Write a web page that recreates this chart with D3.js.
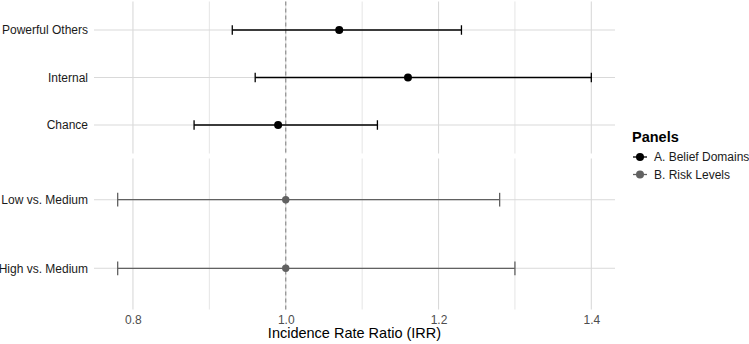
<!DOCTYPE html>
<html>
<head>
<meta charset="utf-8">
<script src="https://cdn.jsdelivr.net/npm/d3@7"></script>
<style>
  body { margin: 0; background: #fff; }
  svg { font-family: "Liberation Sans", Arial, sans-serif; }
</style>
</head>
<body>
<svg id="chart" width="749" height="344"></svg>
<script>
// Panel A: belief domains
const beliefLabels = ["Powerful Others", "Internal", "Chance"];
const beliefIRR = [1.07, 1.16, 0.99];
const beliefLower = [0.93, 0.96, 0.88];
const beliefUpper = [1.23, 1.40, 1.12];

// Panel B: risk levels
const riskLabels = ["Low vs. Medium", "High vs. Medium"];
const riskIRR = [1.0, 1.0];
const riskLower = [0.78, 0.78];
const riskUpper = [1.28, 1.30];

const xTicks = [0.8, 1.0, 1.2, 1.4];
const xMinorTicks = [0.9, 1.1, 1.3];
const panelNames = ["A. Belief Domains", "B. Risk Levels"];
const panelColors = ["#000000", "#616161"];

const svg = d3.select("#chart");
const left = 94, right = 615;

const lo = d3.min(beliefLower.concat(riskLower));
const hi = d3.max(beliefUpper.concat(riskUpper));
const pad = (hi - lo) * 0.05;
const x = d3.scaleLinear().domain([lo - pad, hi + pad]).range([left, right]);

const panels = [
  { labels: beliefLabels, est: beliefIRR, lower: beliefLower, upper: beliefUpper, top: 1.5, bottom: 153.5, color: panelColors[0], r: 4 },
  { labels: riskLabels, est: riskIRR, lower: riskLower, upper: riskUpper, top: 158.5, bottom: 309.5, color: panelColors[1], r: 3.7 }
];

panels.forEach(p => {
  const y = d3.scalePoint().domain(p.labels).range([p.top, p.bottom]).padding(0.6);
  const g = svg.append("g");

  // minor grid
  g.selectAll(".minor").data(xMinorTicks).enter().append("line")
    .attr("x1", d => x(d)).attr("x2", d => x(d))
    .attr("y1", p.top).attr("y2", p.bottom)
    .attr("stroke", "#e2e2e2").attr("stroke-width", 0.9);
  // major grid
  g.selectAll(".major").data(xTicks).enter().append("line")
    .attr("x1", d => x(d)).attr("x2", d => x(d))
    .attr("y1", p.top).attr("y2", p.bottom)
    .attr("stroke", "#d9d9d9").attr("stroke-width", 1.1);
  g.selectAll(".hgrid").data(p.labels).enter().append("line")
    .attr("x1", left).attr("x2", right)
    .attr("y1", d => y(d)).attr("y2", d => y(d))
    .attr("stroke", "#d9d9d9").attr("stroke-width", 1.1);

  // reference line at 1
  g.append("line")
    .attr("x1", x(1)).attr("x2", x(1))
    .attr("y1", p.top).attr("y2", p.bottom)
    .attr("stroke", "#8a8a8a").attr("stroke-width", 1.1)
    .attr("stroke-dasharray", "4,3");

  const rows = p.labels.map((d, i) => ({ label: d, est: p.est[i], lower: p.lower[i], upper: p.upper[i] }));
  const capH = y.step() * 0.2 / 2;

  g.selectAll(".bar").data(rows).enter().append("line")
    .attr("x1", d => x(d.lower)).attr("x2", d => x(d.upper))
    .attr("y1", d => y(d.label)).attr("y2", d => y(d.label))
    .attr("stroke", p.color).attr("stroke-width", 1.3);
  ["lower", "upper"].forEach(k => {
    g.selectAll(".cap-" + k).data(rows).enter().append("line")
      .attr("x1", d => x(d[k])).attr("x2", d => x(d[k]))
      .attr("y1", d => y(d.label) - capH).attr("y2", d => y(d.label) + capH)
      .attr("stroke", p.color).attr("stroke-width", 1.3);
  });
  g.selectAll(".pt").data(rows).enter().append("circle")
    .attr("cx", d => x(d.est)).attr("cy", d => y(d.label))
    .attr("r", p.r).attr("fill", p.color);

  // y labels
  g.selectAll(".ylab").data(p.labels).enter().append("text")
    .attr("x", left - 6).attr("y", d => y(d))
    .attr("dy", "0.35em").attr("text-anchor", "end")
    .attr("font-size", 12).attr("fill", "#1a1a1a")
    .text(d => d);
});

// x axis labels
const xAxis = svg.append("g")
  .attr("transform", "translate(0,311)")
  .call(d3.axisBottom(x).tickValues(xTicks).tickSize(0).tickPadding(4).tickFormat(d3.format(".1f")));
xAxis.select(".domain").remove();
xAxis.selectAll("text")
  .attr("font-size", 12).attr("fill", "#4d4d4d")
  .attr("font-family", "Liberation Sans, Arial, sans-serif");

svg.append("text")
  .attr("x", (left + right) / 2).attr("y", 338)
  .attr("text-anchor", "middle")
  .attr("font-size", 14.5).attr("fill", "#000")
  .text("Incidence Rate Ratio (IRR)");

// legend
const legend = svg.append("g").attr("transform", "translate(632,0)");
legend.append("text")
  .attr("x", 0).attr("y", 142)
  .attr("font-size", 14.5).attr("font-weight", "bold")
  .text("Panels");
panelNames.forEach((name, i) => {
  const cy = 157 + i * 17.5;
  legend.append("line")
    .attr("x1", 1).attr("x2", 15).attr("y1", cy).attr("y2", cy)
    .attr("stroke", panelColors[i]).attr("stroke-width", 1.3);
  legend.append("circle")
    .attr("cx", 8).attr("cy", cy).attr("r", 4).attr("fill", panelColors[i]);
  legend.append("text")
    .attr("x", 22).attr("y", cy).attr("dy", "0.35em")
    .attr("font-size", 12).attr("fill", "#1a1a1a")
    .text(name);
});
</script>
</body>
</html>
